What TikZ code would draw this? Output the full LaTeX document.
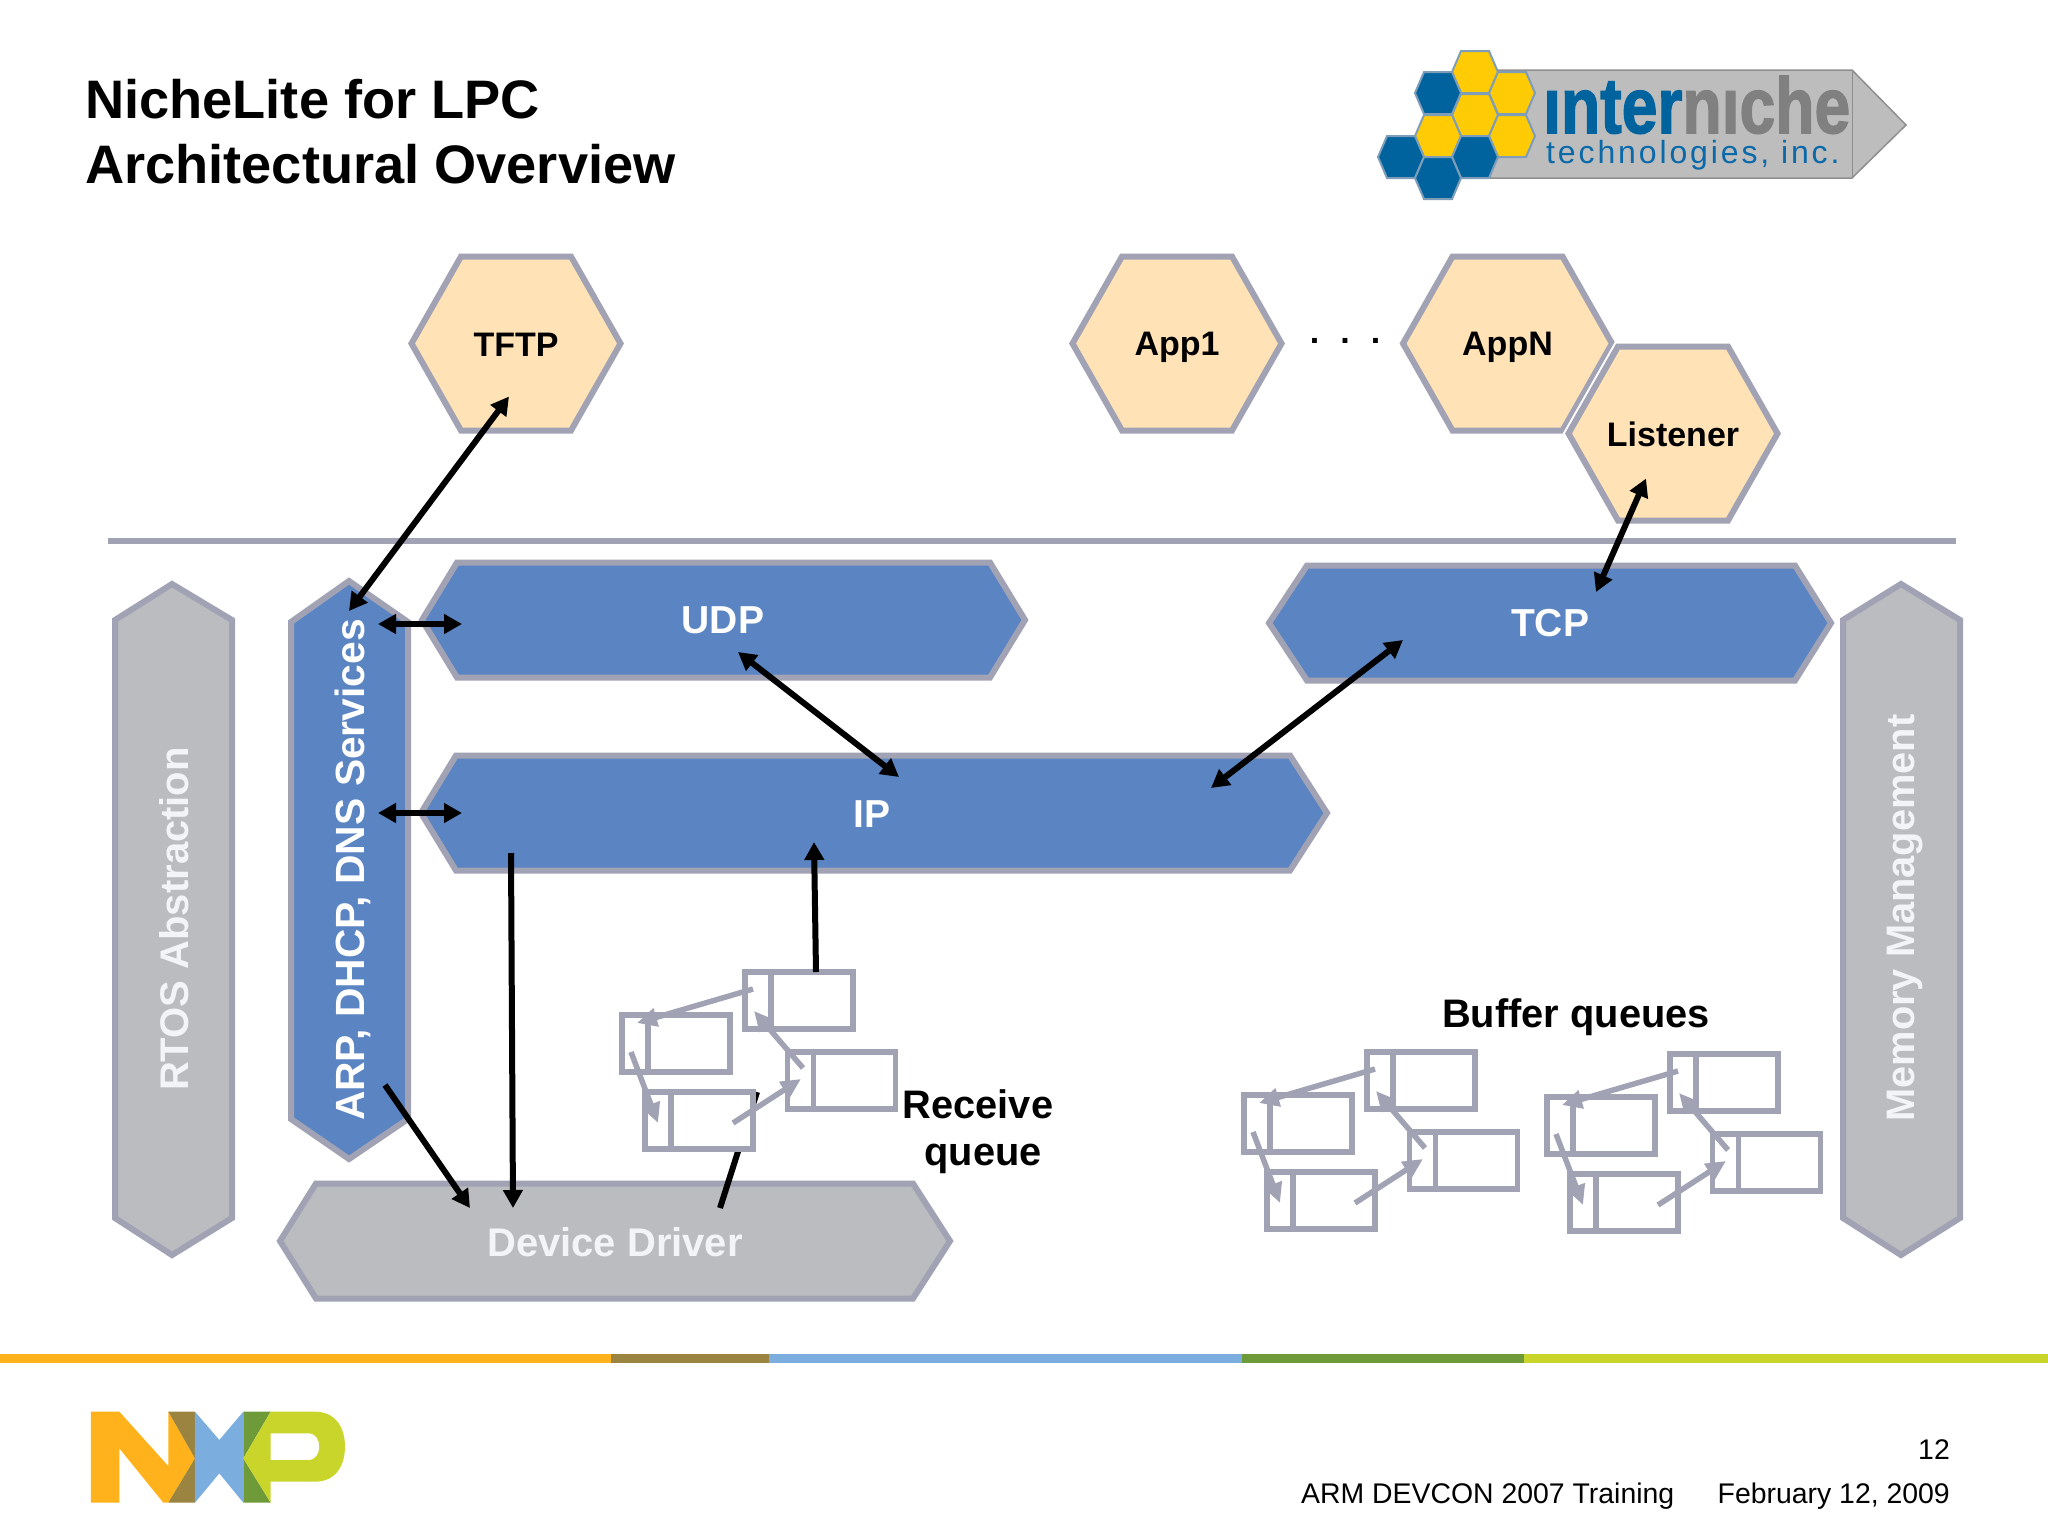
\documentclass[tikz,border=0pt]{standalone}
\usepackage{fontspec}
\setmainfont{Liberation Sans}
\newfontfamily\logofont{Liberation Sans Bold}[FakeBold=2]
\newfontfamily\logosub{Liberation Sans}[LetterSpace=9]
\usetikzlibrary{arrows.meta}
\definecolor{edgegray}{HTML}{A1A2B4}
\definecolor{hexfill}{HTML}{FFE2B5}
\definecolor{bluefill}{HTML}{5A84C2}
\definecolor{grayfill}{HTML}{BBBCBF}
\definecolor{lighttxt}{HTML}{F3F4F7}
\definecolor{logoblue}{HTML}{00639E}
\definecolor{logosubblue}{HTML}{0A69A8}
\definecolor{logoyellow}{HTML}{FFCB05}
\definecolor{logogray}{HTML}{808080}
\definecolor{logoedge}{HTML}{7D9DB8}
\definecolor{logoarrow}{HTML}{BDBDBE}
\definecolor{logoline}{HTML}{8F8F90}
\definecolor{nxporange}{HTML}{FFB21B}
\definecolor{nxpbrown}{HTML}{9A8440}
\definecolor{nxpblue}{HTML}{7BAEDE}
\definecolor{nxpgreen}{HTML}{6F9A3A}
\definecolor{nxplime}{HTML}{C9D52A}
\newcommand{\fs}[1]{\fontsize{#1pt}{#1pt}\selectfont}
\tikzset{
  x=1pt,y=-1pt,
  shapeedge/.style={draw=edgegray,line width=6pt,line join=miter},
  hexshape/.style={shapeedge,fill=hexfill},
  blueshape/.style={shapeedge,fill=bluefill},
  grayshape/.style={shapeedge,fill=grayfill},
  hexlabel/.style={font=\bfseries\fs{34},text=black,inner sep=0pt},
  whitelabel/.style={font=\bfseries\fs{39},text=white,inner sep=0pt},
  lightlabel/.style={font=\bfseries\fs{40},text=lighttxt,inner sep=0pt},
  blacklabel/.style={font=\bfseries\fs{39.8},text=black,inner sep=0pt,align=center},
  bothway/.style={line width=6pt,{Triangle[length=18pt,width=19pt]}-{Triangle[length=18pt,width=19pt]}},
  oneway/.style={line width=6pt,-{Triangle[length=18pt,width=19pt]}},
  plainline/.style={line width=6pt},
  qbox/.style={draw=edgegray,line width=5.5pt,fill=white,minimum width=108pt,minimum height=57pt,inner sep=0pt,outer sep=0pt},
  qline/.style={draw=edgegray,line width=5.5pt},
  qarrow/.style={draw=edgegray,line width=5.5pt,-{Triangle[length=20pt,width=18pt]},edgegray},
  honey/.style={draw=logoedge,line width=2pt},
  footer/.style={font=\fs{28.4},text=black,inner sep=0pt},
}
% upright hexagon of the logo
\newcommand{\honeycell}[3]{\path[honey,fill=#3] (#1-23,#2) -- (#1-14,#2-21) -- (#1+14,#2-21) -- (#1+23,#2) -- (#1+14,#2+21) -- (#1-14,#2+21) -- cycle;}
% large application hexagon: centre x, centre y, name, text, label offset
\newcommand{\apphex}[5]{%
  \path[hexshape] (#1-104.5,#2) -- (#1-55,#2-87) -- (#1+55,#2-87) -- (#1+104.5,#2) -- (#1+55,#2+87) -- (#1-55,#2+87) -- cycle;
  \node[hexlabel] (#3) at (#1,#2+#5) {#4};}
% buffer queue of four linked boxes
\newcommand{\bufferqueue}[3]{%
  \begin{scope}[shift={(#1,#2)},name prefix=#3-]
    \node[qbox] (A) at (799,1000.5) {};
    \node[qbox] (B) at (676,1043.5) {};
    \node[qbox] (C) at (699,1120.5) {};
    \node[qbox] (D) at (841.5,1080.5) {};
    \foreach \n in {A,B,C,D}
      \draw[qline] ([shift={(-28,-28.5)}]\n.center) -- ([shift={(-28,28.5)}]\n.center);
    \draw[qarrow] ([shift={(-46,-11.5)}]A.center) -- ([shift={(-39,-20.5)}]B.center);
    \draw[qarrow] ([shift={(-38.5,-12.5)}]D.center) -- ([shift={(-45,10.5)}]A.center);
    \draw[qarrow] ([shift={(-45,8.5)}]B.center) -- ([shift={(-41,2.5)}]C.center);
    \draw[qarrow] ([shift={(34,2.5)}]C.center) -- ([shift={(-40.5,-1.5)}]D.center);
  \end{scope}}
\begin{document}
\begin{tikzpicture}
\useasboundingbox[fill=white] (0,0) rectangle (2048,1534);

% title
\node[anchor=base west,font=\bfseries\fs{54.2},inner sep=0pt] (title1) at (85,118) {NicheLite for LPC};
\node[anchor=base west,font=\bfseries\fs{54.2},inner sep=0pt] (title2) at (85,183) {Architectural Overview};

% interniche logo
\path[fill=logoarrow,draw=logoline,line width=1.5pt] (1490,70) -- (1852,70) -- (1906,125) -- (1852,178) -- (1490,178) -- cycle;
\path[draw=logoline,line width=1pt] (1852,70) -- (1852,178);
\honeycell{1475}{72}{logoyellow}
\honeycell{1438}{93}{logoblue}
\honeycell{1512}{93}{logoyellow}
\honeycell{1475}{115}{logoyellow}
\honeycell{1438}{136}{logoyellow}
\honeycell{1512}{136}{logoyellow}
\honeycell{1401}{157}{logoblue}
\honeycell{1475}{157}{logoblue}
\honeycell{1438}{178}{logoblue}
\node[anchor=base west,inner sep=0pt,font=\logofont\fs{73}] (logoname) at (1543,133)
  {\resizebox{307pt}{57pt}{\textcolor{logoblue}{ınter}\textcolor{logogray}{nıche}}};
\node[anchor=base west,inner sep=0pt,font=\logosub\fs{32}] (logosub) at (1546,163)
  {\textcolor{logosubblue}{technologies, inc.}};

% application hexagons
\apphex{516}{343.5}{tftp}{TFTP}{1}
\apphex{1177}{343.5}{appa}{App1}{4}
\apphex{1507.5}{343.5}{appn}{AppN}{4}
\path[draw=white,line width=10pt] (1568.5,433.5) -- (1618,346.5) -- (1728,346.5) -- (1777.5,433.5) -- (1728,520.5) -- (1618,520.5) -- cycle;
\apphex{1673}{433.5}{listener}{Listener}{1}
\node[font=\bfseries\fs{34},inner sep=0pt] (dots) at (1345,341) {.\hspace{0.62em}.\hspace{0.62em}.};

% separator
\coordinate (sepl) at (108,541);
\coordinate (sepr) at (1956,541);
\draw[draw=edgegray,line width=6pt] (sepl) -- (sepr);

% side columns
\path[grayshape] (115,620) -- (172,584) -- (232,620) -- (232,1218) -- (172,1255) -- (115,1218) -- cycle;
\node[lightlabel,rotate=90] (rtos) at (174,919) {RTOS Abstraction};
\path[grayshape] (1843,620) -- (1901,584) -- (1960,620) -- (1960,1218) -- (1901,1255) -- (1843,1218) -- cycle;
\node[lightlabel,rotate=90,font=\bfseries\fs{39.8}] (memory) at (1905,918) {Memory Management};
\path[blueshape] (291,622) -- (349,581) -- (408,622) -- (408,1119) -- (349,1159) -- (291,1119) -- cycle;
\node[whitelabel,rotate=90,font=\bfseries\fs{40.8}] (arp) at (353,870) {ARP, DHCP, DNS Services};

% protocol layers
\path[blueshape] (422,620) -- (457,562.5) -- (990,562.5) -- (1025,620) -- (990,677.5) -- (457,677.5) -- cycle;
\node[whitelabel] (udp) at (723,620) {UDP};
\path[blueshape] (1269,623) -- (1307,565.5) -- (1795,565.5) -- (1831,623) -- (1795,680.5) -- (1307,680.5) -- cycle;
\node[whitelabel] (tcp) at (1550,623) {TCP};
\path[blueshape] (421,813) -- (456,755.5) -- (1290,755.5) -- (1327,813) -- (1290,870.5) -- (456,870.5) -- cycle;
\node[whitelabel] (ip) at (872,814) {IP};
\path[grayshape] (280,1241) -- (316,1183.5) -- (913,1183.5) -- (950,1241) -- (913,1298.5) -- (316,1298.5) -- cycle;
\node[lightlabel] (driver) at (615,1242) {Device Driver};

% connectors
\draw[bothway] ([shift={(-7,52)}]tftp.center) -- ([shift={(-4,-259)}]arp.center);
\draw[bothway] ([shift={(25,-246)}]arp.center) -- ([shift={(-261,4)}]udp.center);
\draw[bothway] ([shift={(25,-57)}]arp.center) -- ([shift={(-410,-1)}]ip.center);
\draw[bothway] ([shift={(15,32)}]udp.center) -- ([shift={(27,-37)}]ip.center);
\draw[bothway] ([shift={(339,-26)}]ip.center) -- ([shift={(-147,17)}]tcp.center);
\draw[bothway] ([shift={(46,-31)}]tcp.center) -- ([shift={(-27,44)}]listener.center);
\draw[oneway] ([shift={(-361,39)}]ip.center) -- ([shift={(-102,-34)}]driver.center);
\draw[oneway] ([shift={(32,215)}]arp.center) -- ([shift={(-145,-34)}]driver.center);
\draw[plainline] ([shift={(105,-34)}]driver.center) -- ([shift={(142,-150)}]driver.center);

% receive queue and buffer queues
\bufferqueue{0}{0}{rx}
\draw[oneway] ([shift={(17,0)}]rx-A.north) -- ([shift={(-58,28)}]ip.center);
\bufferqueue{622}{80}{bufa}
\bufferqueue{925}{82}{bufb}
\node[blacklabel] (receive) at (978,1132) {Receive\\[7pt]\hspace{10pt}queue};
\node[blacklabel] (buffers) at (1576,1017) {Buffer queues};

% colour band
\path[fill=nxporange] (0,1354) rectangle (611,1363);
\path[fill=nxpbrown] (611,1354) rectangle (769,1363);
\path[fill=nxpblue] (769,1354) rectangle (1242,1363);
\path[fill=nxpgreen] (1242,1354) rectangle (1524,1363);
\path[fill=nxplime] (1524,1354) rectangle (2048,1363);

% NXP logo
\begin{scope}[shift={(60,1380)},x=0.3333pt,y=-0.3333pt]
  \path[fill=nxporange] (93,95) -- (178,95) -- (325,258) -- (325,95) -- (405,235) -- (325,368) -- (310,368) -- (178,205) -- (178,368) -- (93,368) -- cycle;
  \path[fill=nxpbrown] (325,95) -- (405,95) -- (405,235) -- cycle (405,235) -- (405,368) -- (325,368) -- cycle;
  \path[fill=nxpblue] (405,95) -- (478,180) -- (550,95) -- (550,368) -- (478,280) -- (405,368) -- cycle;
  \path[fill=nxpgreen] (550,95) -- (632,95) -- (550,235) -- cycle (550,235) -- (632,368) -- (550,368) -- cycle;
  \path[fill=nxplime,even odd rule] (632,95) -- (765,95) .. controls (825,95) and (855,140) .. (855,200) .. controls (855,260) and (825,305) .. (765,305) -- (632,305) -- (632,368) -- (550,235) -- cycle
    (632,160) -- (745,160) .. controls (768,160) and (778,180) .. (778,200) .. controls (778,220) and (768,240) .. (745,240) -- (632,240) -- cycle;
\end{scope}

% footer
\node[footer,anchor=base east] (pagenum) at (1950,1459) {12};
\node[footer,anchor=base west] (event) at (1301,1503) {ARM DEVCON 2007 Training};
\node[footer,anchor=base east] (date) at (1950,1503) {February 12, 2009};
\end{tikzpicture}
\end{document}
